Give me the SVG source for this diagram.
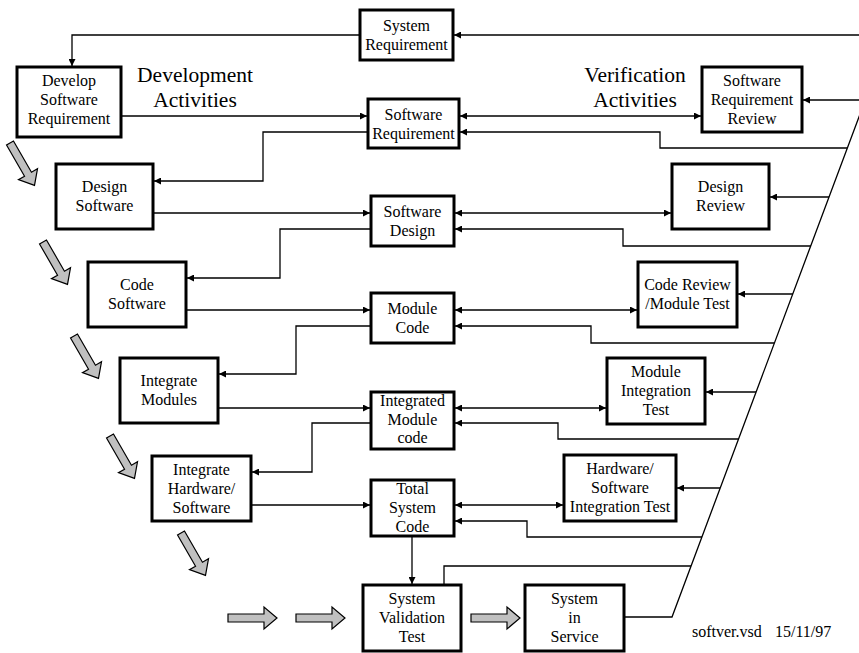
<svg xmlns="http://www.w3.org/2000/svg" width="859" height="653" viewBox="0 0 859 653">
<defs>
<style>
.box{fill:#fff;stroke:#000;stroke-width:3}
.t{font-family:"Liberation Serif","Times New Roman",serif;font-size:16px;text-anchor:middle;fill:#000}
.h{font-family:"Liberation Serif","Times New Roman",serif;font-size:21.5px;text-anchor:middle;fill:#000}
.c{fill:none;stroke:#000;stroke-width:1.3}
.a{marker-end:url(#ah)}
.d{marker-start:url(#ah);marker-end:url(#ah)}
.blk{fill:#c0c0c0;stroke:#000;stroke-width:1.2}
</style>
<marker id="ah" viewBox="0 0 10 10" refX="10" refY="5" markerWidth="8" markerHeight="7" markerUnits="userSpaceOnUse" orient="auto-start-reverse">
<path d="M0,0 L10,5 L0,10 Z" fill="#000"/>
</marker>
<path id="barrow" d="M0,-4 H36 V-11 L49,0 L36,11 V4 H0 Z"/>
</defs>
<rect width="859" height="653" fill="#fff"/>

<g id="connectors">
<path class="c a" d="M859,35 H454"/>
<path class="c a" d="M360,35 H72 V66"/>
<path class="c a" d="M121,116 H367"/>
<path class="c a" d="M368,132 H263 V181 H154"/>
<path class="c d" d="M460,116 H701"/>
<path class="c a" d="M859,100 H803"/>
<path class="c a" d="M847,148 H660 V132 H460"/>
<path class="c a" d="M153,213 H370"/>
<path class="c a" d="M371,229 H280 V278 H187"/>
<path class="c d" d="M455,213 H671"/>
<path class="c a" d="M829,197 H770"/>
<path class="c a" d="M811,246 H623 V229 H455"/>
<path class="c a" d="M186,310 H370"/>
<path class="c a" d="M371,326 H296 V374 H219"/>
<path class="c d" d="M455,310 H637"/>
<path class="c a" d="M793,294 H738"/>
<path class="c a" d="M774,343 H591 V326 H455"/>
<path class="c a" d="M218,408 H370"/>
<path class="c a" d="M371,423 H312 V472 H252"/>
<path class="c d" d="M455,408 H606"/>
<path class="c a" d="M756,392 H706"/>
<path class="c a" d="M739,439 H558 V423 H455"/>
<path class="c a" d="M251,505 H370"/>
<path class="c d" d="M455,505 H563"/>
<path class="c a" d="M720,488 H677"/>
<path class="c a" d="M702,537 H527 V521 H455"/>
<path class="c a" d="M412,536 V584"/>
<path class="c" d="M444,585 V566 H691"/>
<path class="c" d="M624,617 H672 L872,82"/>
</g>

<g id="flow-arrows">
<use href="#barrow" class="blk" transform="translate(10,143) rotate(60)"/>
<use href="#barrow" class="blk" transform="translate(43,242) rotate(60)"/>
<use href="#barrow" class="blk" transform="translate(74,336) rotate(60)"/>
<use href="#barrow" class="blk" transform="translate(110,436) rotate(60)"/>
<use href="#barrow" class="blk" transform="translate(181,533) rotate(60)"/>
<use href="#barrow" class="blk" transform="translate(228,618)"/>
<use href="#barrow" class="blk" transform="translate(296,618)"/>
<use href="#barrow" class="blk" transform="translate(471,618)"/>
</g>

<g id="labels">
<text class="h" x="195" y="82">Development</text>
<text class="h" x="195" y="107">Activities</text>
<text class="h" x="635" y="82">Verification</text>
<text class="h" x="635" y="107">Activities</text>
<text class="t" x="692" y="637" style="text-anchor:start">softver.vsd</text>
<text class="t" x="775" y="637" style="text-anchor:start">15/11/97</text>
</g>

<g id="system-requirement">
<rect class="box" x="360" y="10" width="93" height="50"/>
<text class="t" x="406.5" y="31">System</text>
<text class="t" x="406.5" y="50">Requirement</text>
</g>
<g id="develop-software-requirement">
<rect class="box" x="17" y="67" width="104" height="70"/>
<text class="t" x="69" y="86">Develop</text>
<text class="t" x="69" y="105">Software</text>
<text class="t" x="69" y="124">Requirement</text>
</g>
<g id="software-requirement">
<rect class="box" x="368" y="99" width="91" height="49"/>
<text class="t" x="413.5" y="120">Software</text>
<text class="t" x="413.5" y="139">Requirement</text>
</g>
<g id="software-requirement-review">
<rect class="box" x="702" y="67" width="100" height="65"/>
<text class="t" x="752" y="85.5">Software</text>
<text class="t" x="752" y="104.5">Requirement</text>
<text class="t" x="752" y="123.5">Review</text>
</g>
<g id="design-software">
<rect class="box" x="56" y="164" width="97" height="65"/>
<text class="t" x="104.5" y="192">Design</text>
<text class="t" x="104.5" y="211">Software</text>
</g>
<g id="software-design">
<rect class="box" x="371" y="196" width="83" height="50"/>
<text class="t" x="412.5" y="216.5">Software</text>
<text class="t" x="412.5" y="235.5">Design</text>
</g>
<g id="design-review">
<rect class="box" x="672" y="164" width="97" height="65"/>
<text class="t" x="720.5" y="192">Design</text>
<text class="t" x="720.5" y="211">Review</text>
</g>
<g id="code-software">
<rect class="box" x="88" y="262" width="98" height="65"/>
<text class="t" x="137" y="290">Code</text>
<text class="t" x="137" y="309">Software</text>
</g>
<g id="module-code">
<rect class="box" x="371" y="293" width="83" height="50"/>
<text class="t" x="412.5" y="313.5">Module</text>
<text class="t" x="412.5" y="332.5">Code</text>
</g>
<g id="code-review-module-test">
<rect class="box" x="638" y="262" width="99" height="65"/>
<text class="t" x="687.5" y="290">Code Review</text>
<text class="t" x="687.5" y="309">/Module Test</text>
</g>
<g id="integrate-modules">
<rect class="box" x="120" y="358" width="98" height="65"/>
<text class="t" x="169" y="386">Integrate</text>
<text class="t" x="169" y="405">Modules</text>
</g>
<g id="integrated-module-code">
<rect class="box" x="371" y="392" width="83" height="57"/>
<text class="t" x="412.5" y="406">Integrated</text>
<text class="t" x="412.5" y="424.5">Module</text>
<text class="t" x="412.5" y="443">code</text>
</g>
<g id="module-integration-test">
<rect class="box" x="607" y="358" width="98" height="66"/>
<text class="t" x="656" y="377">Module</text>
<text class="t" x="656" y="396">Integration</text>
<text class="t" x="656" y="415">Test</text>
</g>
<g id="integrate-hardware-software">
<rect class="box" x="152" y="456" width="99" height="65"/>
<text class="t" x="201.5" y="474.5">Integrate</text>
<text class="t" x="201.5" y="493.5">Hardware/</text>
<text class="t" x="201.5" y="512.5">Software</text>
</g>
<g id="total-system-code">
<rect class="box" x="371" y="480" width="83" height="56"/>
<text class="t" x="412.5" y="494">Total</text>
<text class="t" x="412.5" y="513">System</text>
<text class="t" x="412.5" y="532">Code</text>
</g>
<g id="hardware-software-integration-test">
<rect class="box" x="564" y="455" width="112" height="66"/>
<text class="t" x="620" y="474">Hardware/</text>
<text class="t" x="620" y="493">Software</text>
<text class="t" x="620" y="512">Integration Test</text>
</g>
<g id="system-validation-test">
<rect class="box" x="363" y="585" width="98" height="66"/>
<text class="t" x="412" y="604">System</text>
<text class="t" x="412" y="623">Validation</text>
<text class="t" x="412" y="642">Test</text>
</g>
<g id="system-in-service">
<rect class="box" x="525" y="585" width="99" height="66"/>
<text class="t" x="574.5" y="604">System</text>
<text class="t" x="574.5" y="623">in</text>
<text class="t" x="574.5" y="642">Service</text>
</g>
</svg>
